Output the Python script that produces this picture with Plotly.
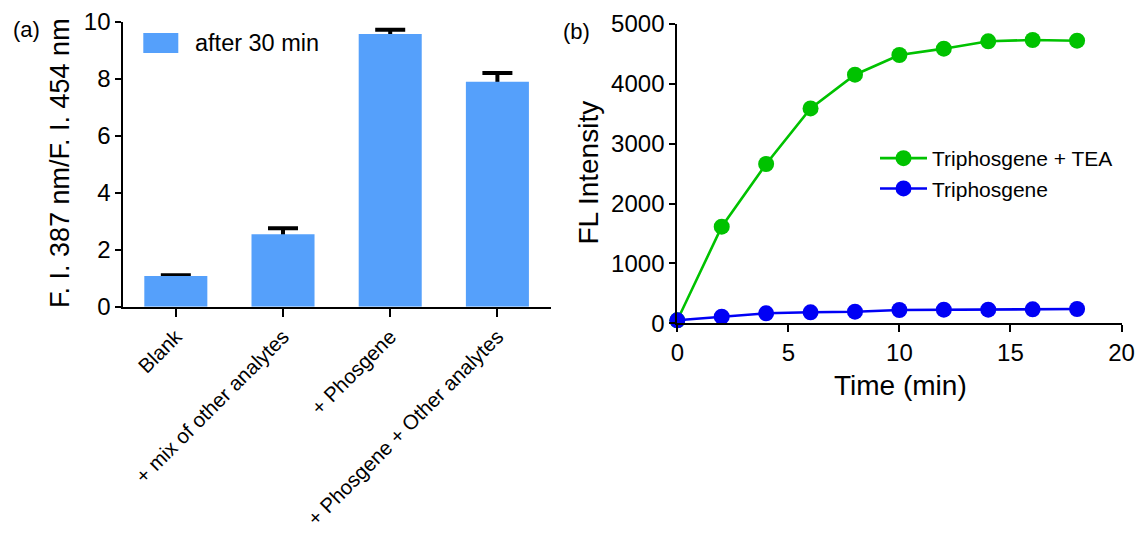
import plotly.graph_objects as go

# Panel (a) data
categories = ["Blank", "+ mix of other analytes", "+ Phosgene", "+ Phosgene + Other analytes"]
ratio_values = [1.08, 2.54, 9.57, 7.89]
ratio_errors = [0.02, 0.21, 0.15, 0.31]

# Panel (b) data
time_min = [0, 2, 4, 6, 8, 10, 12, 14, 16, 18]
tea_values = [50, 1614, 2661, 3590, 4153, 4482, 4588, 4711, 4733, 4721]
tri_values = [50, 111, 167, 184, 194, 222, 228, 228, 234, 239]

FONT = "Liberation Sans, Arial, sans-serif"
W, H = 1135, 525   # page has an 8px body margin
OFF = 8

def px(x):
    return (x - OFF) / W

def py(y):
    return 1 - (y - OFF) / H

BAR_COLOR = "#55A0FB"
GREEN = "#00C200"
BLUE = "#0000F5"

xcat = list(range(len(categories)))
fig = go.Figure()

# error bars (drawn first, then covered by the bars below them)
fig.add_trace(go.Bar(
    x=xcat, y=ratio_values, width=0.588,
    marker=dict(color="rgba(0,0,0,0)", line=dict(width=0)),
    error_y=dict(type="data", array=ratio_errors, color="black", thickness=4, width=15),
    showlegend=False, hoverinfo="skip", xaxis="x", yaxis="y",
))
fig.add_trace(go.Bar(
    x=xcat, y=ratio_values, width=0.588,
    marker=dict(color=BAR_COLOR, line=dict(width=0)),
    name="after 30 min", showlegend=False, xaxis="x", yaxis="y",
))

fig.add_trace(go.Scatter(
    x=time_min, y=tea_values, mode="lines+markers",
    line=dict(color=GREEN, width=2.6),
    marker=dict(size=16, color=GREEN),
    name="Triphosgene + TEA", xaxis="x2", yaxis="y2", cliponaxis=False,
    legendgroup="g1",
))
fig.add_trace(go.Scatter(
    x=time_min, y=tri_values, mode="lines+markers",
    line=dict(color=BLUE, width=2.6),
    marker=dict(size=16, color=BLUE),
    name="Triphosgene", xaxis="x2", yaxis="y2", cliponaxis=False,
    legendgroup="g2",
))

axis_common = dict(showline=True, linecolor="black", linewidth=2, ticks="outside",
                   tickcolor="black", tickwidth=2, showgrid=False, zeroline=False,
                   automargin=False, tickfont=dict(family=FONT, size=24, color="black"))

fig.update_layout(
    width=W, height=H,
    margin=dict(l=0, r=0, t=0, b=0),
    paper_bgcolor="white", plot_bgcolor="white",
    font=dict(family=FONT, color="black"),
    barmode="overlay",
    xaxis=dict(**axis_common | dict(tickfont=dict(family=FONT, size=20.5, color="black")),
               domain=[px(123.3), px(551)], range=[-0.49, 3.5],
               tickmode="array", tickvals=xcat, ticktext=categories,
               tickangle=-45, ticklen=8, anchor="y"),
    yaxis=dict(**axis_common, domain=[py(306.7), py(21.7)], range=[0, 10], dtick=2, ticklen=6,
               anchor="x"),
    xaxis2=dict(**axis_common, domain=[px(677.3), px(1121.5)], range=[0, 20], dtick=5, ticklen=7,
                anchor="y2"),
    yaxis2=dict(**axis_common, domain=[py(323.3), py(24)], range=[0, 5000], dtick=1000, ticklen=6,
                anchor="x2"),
    showlegend=True,
    legend=dict(x=px(875), y=py(138), xanchor="left", yanchor="top",
                font=dict(family=FONT, size=21), bgcolor="rgba(0,0,0,0)",
                tracegroupgap=0, itemwidth=47),
    shapes=[
        dict(type="rect", xref="paper", yref="paper",
             x0=px(143.3), x1=px(178.3), y0=py(53), y1=py(33),
             fillcolor=BAR_COLOR, line=dict(width=0)),
    ],
    annotations=[
        dict(text="after 30 min", x=px(193.3), y=py(43), xref="paper", yref="paper",
             xanchor="left", yanchor="middle", showarrow=False, font=dict(family=FONT, size=23.5)),
        dict(text="(a)", x=px(11), y=py(29.5), xref="paper", yref="paper",
             xanchor="left", yanchor="middle", showarrow=False, font=dict(family=FONT, size=22)),
        dict(text="(b)", x=px(561), y=py(31), xref="paper", yref="paper",
             xanchor="left", yanchor="middle", showarrow=False, font=dict(family=FONT, size=22)),
        dict(text="F. I. 387 nm/F. I. 454 nm", x=px(60), y=py(163), xref="paper", yref="paper",
             xanchor="center", yanchor="middle", textangle=-90, showarrow=False,
             font=dict(family=FONT, size=27)),
        dict(text="FL Intensity", x=px(588), y=py(172.5), xref="paper", yref="paper",
             xanchor="center", yanchor="middle", textangle=-90, showarrow=False,
             font=dict(family=FONT, size=28)),
        dict(text="Time (min)", x=px(900), y=py(385), xref="paper", yref="paper",
             xanchor="center", yanchor="middle", showarrow=False,
             font=dict(family=FONT, size=28)),
    ],
)

fig.write_html("out.html")
